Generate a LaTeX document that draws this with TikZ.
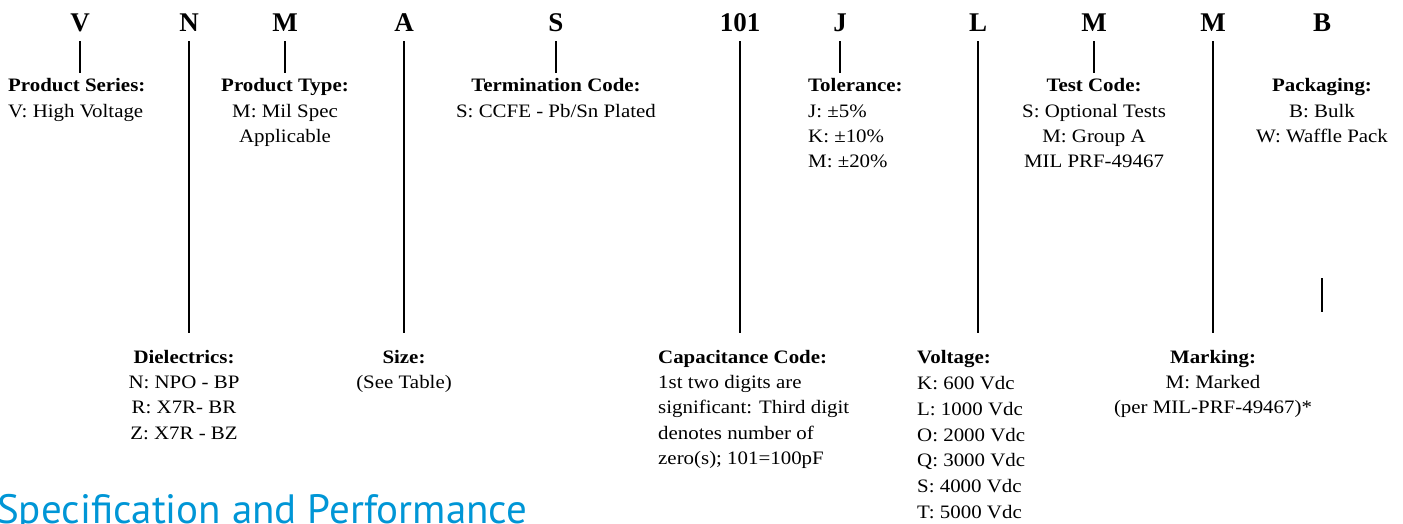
\documentclass[tikz,border=0pt]{standalone}
\usepackage{fontspec}
\setmainfont[FakeStretch=1.1]{Liberation Serif}
\newfontfamily\codefont{Liberation Serif}
\newfontfamily\headfont{PT Sans}
\definecolor{headblue}{RGB}{0,150,214}
\begin{document}
\begin{tikzpicture}[x=1pt,y=-1pt,
  code/.style={font=\codefont\fontsize{27}{27}\selectfont\bfseries, inner sep=0pt, anchor=base},
  desc/.style={font=\fontsize{19}{25.3}\selectfont, inner sep=0pt, anchor=north, align=center},
  descl/.style={desc, align=left, anchor=north west},
  conn/.style={line width=1.8pt}]
\useasboundingbox (0,0) rectangle (1403,523);

% code letters
\node[code] (cV) at (80,31) {V};
\node[code] (cN) at (189,31) {N};
\node[code] (cM) at (285,31) {M};
\node[code] (cA) at (404,31) {A};
\node[code] (cS) at (556,31) {S};
\node[code] (c101) at (740,31) {101};
\node[code] (cJ) at (840,31) {J};
\node[code] (cL) at (978,31) {L};
\node[code] (cT) at (1094,31) {M};
\node[code] (cK) at (1213,31) {M};
\node[code] (cB) at (1322,31) {B};

% helper rows
\coordinate (t) at (0,41);
\coordinate (sb) at (0,73);
\coordinate (lb) at (0,333);
\coordinate (b1) at (0,278);
\coordinate (b2) at (0,312);

% upper labels
\node[descl] (ps) at (8,78.5) {\textbf{Product Series:}\\V: High Voltage};
\node[desc] (pt) at (285,78.5) {\textbf{Product Type:}\\M: Mil Spec\\Applicable};
\node[desc] (tc) at (556,78.5) {\textbf{Termination Code:}\\S: CCFE - Pb/Sn Plated};
\node[descl] (tol) at (808,78.5) {\textbf{Tolerance:}\\J: ±5\%\\K: ±10\%\\M: ±20\%};
\node[desc] (test) at (1094,78.5) {\textbf{Test Code:}\\S: Optional Tests\\M: Group A\\MIL PRF-49467};
\node[desc] (pack) at (1322,78.5) {\textbf{Packaging:}\\B: Bulk\\W: Waffle Pack};

% lower labels
\node[desc] (diel) at (184,350) {\textbf{Dielectrics:}\\N: NPO - BP\\R: X7R- BR\\Z: X7R - BZ};
\node[desc] (size) at (404,350) {\textbf{Size:}\\(See Table)};
\node[descl] (cap) at (658,350) {\textbf{Capacitance Code:}\\1st two digits are\\significant: Third digit\\denotes number of\\zero(s); 101=100pF};
\node[descl, font=\fontsize{19}{25.9}\selectfont] (volt) at (917,350) {\textbf{Voltage:}\\K: 600 Vdc\\L: 1000 Vdc\\O: 2000 Vdc\\Q: 3000 Vdc\\S: 4000 Vdc\\T: 5000 Vdc};
\node[desc] (mark) at (1213,350) {\textbf{Marking:}\\M: Marked\\(per MIL-PRF-49467)*};

% connectors
\draw[conn] (cV |- t) -- (cV |- sb);
\draw[conn] (cM |- t) -- (cM |- sb);
\draw[conn] (cS |- t) -- (cS |- sb);
\draw[conn] (cJ |- t) -- (cJ |- sb);
\draw[conn] (cT |- t) -- (cT |- sb);
\draw[conn] (cN |- t) -- (cN |- lb);
\draw[conn] (cA |- t) -- (cA |- lb);
\draw[conn] (c101 |- t) -- (c101 |- lb);
\draw[conn] (cL |- t) -- (cL |- lb);
\draw[conn] (cK |- t) -- (cK |- lb);
\draw[conn] (cB |- b1) -- (cB |- b2);

% heading
\node[font=\headfont\fontsize{41}{41}\selectfont, text=headblue, inner sep=0pt, anchor=base west] (head) at (-3,523) {Specification and Performance};
\end{tikzpicture}
\end{document}
